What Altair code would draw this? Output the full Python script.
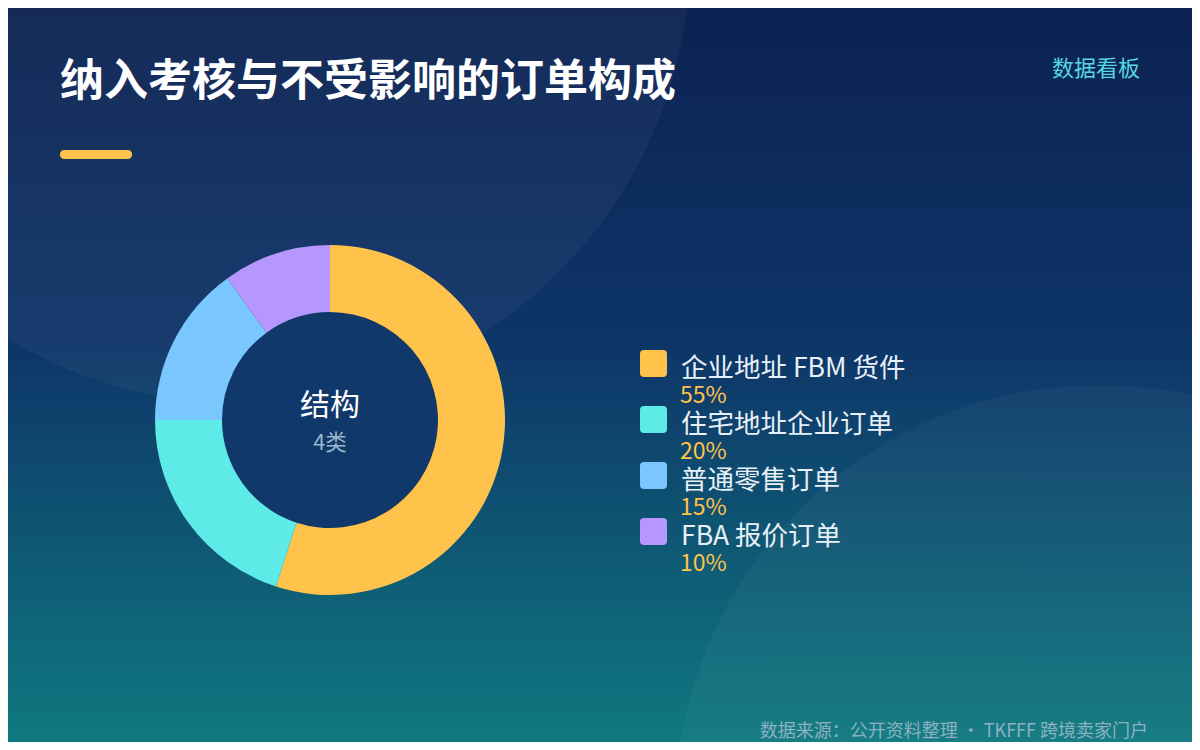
import altair as alt
import pandas as pd

# ---- data ----
names = ["企业地址 FBM 货件", "住宅地址企业订单", "普通零售订单", "FBA 报价订单"]
values = [55, 20, 15, 10]
pct_labels = ["55%", "20%", "15%", "10%"]
colors = ["#FFC24B", "#5EEAE6", "#7AC6FF", "#B597FF"]

title_text = "纳入考核与不受影响的订单构成"
tag_text = "数据看板"
center_title = "结构"
center_sub = "4类"
footer_text = "数据来源：公开资料整理 · TKFFF 跨境卖家门户"

W, H = 1184, 734
FONT = "Noto Sans CJK SC"

df = pd.DataFrame({
    "name": names,
    "value": values,
    "pct": pct_labels,
    "idx": list(range(len(names))),
})
one = alt.Data(values=[{"k": 1}])

color_scale = alt.Scale(domain=names, range=colors)
leg_y = alt.Y("idx:Q", scale=alt.Scale(domain=[0, 3], range=[355.5, 523.5]), axis=None)

# background gradient
bg = alt.Chart(one).mark_rect(
    color=alt.LinearGradient(
        gradient="linear", x1=0, y1=0, x2=0, y2=1,
        stops=[
            alt.GradientStop(offset=0, color="#0c2252"),
            alt.GradientStop(offset=0.45, color="#0e3568"),
            alt.GradientStop(offset=1, color="#0f7b80"),
        ],
    )
).encode(x=alt.value(0), x2=alt.value(W + 10), y=alt.value(0), y2=alt.value(H + 10))

circle1 = alt.Chart(one).mark_circle(
    color="#ffffff", opacity=0.04, clip=True
).encode(x=alt.value(233), y=alt.value(-53), size=alt.value(898 * 898))

circle2 = alt.Chart(one).mark_circle(
    color="#ffffff", opacity=0.035, clip=True
).encode(x=alt.value(1092), y=alt.value(802), size=alt.value(850 * 850))

# title area
title = alt.Chart(one).mark_text(
    text=title_text, font=FONT, fontSize=44, fontWeight="bold",
    color="#ffffff", align="left", baseline="middle"
).encode(x=alt.value(52), y=alt.value(74.5))

bar = alt.Chart(one).mark_rect(color="#FFC24B", cornerRadius=4).encode(
    x=alt.value(52), x2=alt.value(124), y=alt.value(142), y2=alt.value(151)
)

tag = alt.Chart(one).mark_text(
    text=tag_text, font=FONT, fontSize=22, color="#55D8E4",
    align="right", baseline="middle"
).encode(x=alt.value(1132), y=alt.value(61.3))

# donut
hole = alt.Chart(one).mark_circle(color="#10386a", opacity=1).encode(
    x=alt.value(322), y=alt.value(412), size=alt.value(218 * 218)
)

donut = alt.Chart(df).mark_arc(innerRadius=108, outerRadius=175).encode(
    theta=alt.Theta("value:Q", stack=True),
    order=alt.Order("idx:Q", sort="ascending"),
    color=alt.Color("name:N", scale=color_scale, legend=None),
    x=alt.value(322), y=alt.value(412),
)

c_title = alt.Chart(one).mark_text(
    text=center_title, font=FONT, fontSize=30, color="#ffffff",
    align="center", baseline="middle"
).encode(x=alt.value(322), y=alt.value(398.4))

c_sub = alt.Chart(one).mark_text(
    text=center_sub, font=FONT, fontSize=21.5, color="#9ab6cc",
    align="center", baseline="middle"
).encode(x=alt.value(322), y=alt.value(435.7))

# legend
rounded_sq = ("M -0.7 -1 L 0.7 -1 Q 1 -1 1 -0.7 L 1 0.7 Q 1 1 0.7 1 "
              "L -0.7 1 Q -1 1 -1 0.7 L -1 -0.7 Q -1 -1 -0.7 -1 Z")
leg_sq = alt.Chart(df).mark_point(
    shape=rounded_sq, filled=True, opacity=1, size=27 * 27
).encode(
    x=alt.value(645.5), y=leg_y,
    color=alt.Color("name:N", scale=color_scale, legend=None),
)

leg_lbl = alt.Chart(df).mark_text(
    font=FONT, fontSize=26.5, color="#e8f0f8", align="left", baseline="middle", dy=5.5
).encode(x=alt.value(673), y=leg_y, text="name:N")

leg_pct = alt.Chart(df).mark_text(
    font=FONT, fontSize=23, color="#FFC24B", align="left", baseline="middle", dy=32.5
).encode(x=alt.value(672), y=leg_y, text="pct:N")

footer = alt.Chart(one).mark_text(
    text=footer_text, font=FONT, fontSize=18, color="#8ab2c2",
    align="right", baseline="middle"
).encode(x=alt.value(1140), y=alt.value(724.4))

chart = alt.layer(
    bg, circle1, circle2, title, bar, tag, hole, donut, c_title, c_sub,
    leg_sq, leg_lbl, leg_pct, footer
).properties(
    width=W, height=H, autosize="none", padding=0, background="#0e3a6a"
).configure_view(stroke=None)

chart.save("out.html", embed_options={"renderer": "svg", "actions": False})
